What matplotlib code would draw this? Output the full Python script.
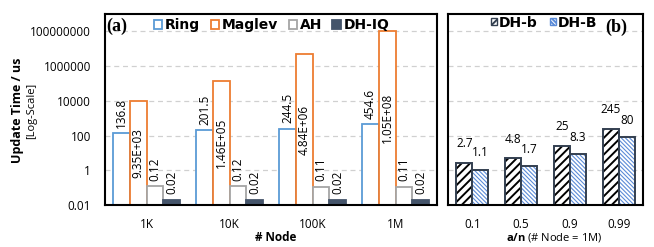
import numpy as np
import matplotlib
matplotlib.use("Agg")
import matplotlib.pyplot as plt
from matplotlib.ticker import FixedLocator, FixedFormatter, NullLocator
from matplotlib.patches import Patch

plt.rcParams["font.family"] = "Open Sans"
plt.rcParams["mathtext.fontset"] = "custom"
plt.rcParams["mathtext.rm"] = "Open Sans"
plt.rcParams["mathtext.bf"] = "Open Sans:bold"
plt.rcParams["hatch.linewidth"] = 1.4

# data
node_sizes = ["1K", "10K", "100K", "1M"]
ring = [136.8, 201.5, 244.5, 454.6]
maglev = [9.35e3, 1.46e5, 4.84e6, 1.05e8]
maglev_labels = ["9.35E+03", "1.46E+05", "4.84E+06", "1.05E+08"]
ah = [0.12, 0.12, 0.11, 0.11]
dh_iq = [0.02, 0.02, 0.02, 0.02]

an_ratios = ["0.1", "0.5", "0.9", "0.99"]
dh_b = [2.7, 4.8, 25, 245]
dh_B = [1.1, 1.7, 8.3, 80]

y_ticks = [1e-2, 1, 1e2, 1e4, 1e6, 1e8]
y_ticklabels = ["0.01", "1", "100", "10000", "1000000", "100000000"]

ring_color = "#5B9BD5"
maglev_color = "#ED7D31"
ah_color = "#A5A5A5"
iq_color = "#44546A"
dh_edge = "#333F50"
dh_blue = "#5B8BD8"
fine_hatch = "\\\\\\\\\\\\\\\\"
legend_font = {"family": "DejaVu Sans", "weight": "bold", "size": 10}

fig = plt.figure(figsize=(6.54, 2.47), dpi=100)
ax1 = fig.add_axes([105 / 654, 1 - 205 / 247, 332 / 654, 191 / 247])
ax2 = fig.add_axes([448 / 654, 1 - 205 / 247, 195 / 654, 191 / 247])


def style_axis(ax):
    ax.set_yscale("log")
    ax.set_ylim(0.01, 1e9)
    ax.set_xlim(-0.5, 3.5)
    ax.yaxis.set_major_locator(FixedLocator(y_ticks))
    ax.yaxis.set_major_formatter(FixedFormatter(y_ticklabels))
    ax.yaxis.set_minor_locator(NullLocator())
    ax.grid(axis="y", color="#D0D0D0", linestyle=(0, (4, 3)), linewidth=0.9)
    ax.set_axisbelow(True)
    ax.tick_params(length=0, labelsize=8.5, pad=10)
    ax.tick_params(axis="x", pad=9)
    for s in ax.spines.values():
        s.set_linewidth(1.5)
        s.set_color("black")


style_axis(ax1)
style_axis(ax2)
ax2.tick_params(labelleft=False)

# (a) update time vs number of nodes
x = np.arange(len(node_sizes))
w = 0.2
b_ring = ax1.bar(x - 1.5 * w, ring, w, facecolor="white", edgecolor=ring_color, linewidth=1.3, label="Ring")
b_mag = ax1.bar(x - 0.5 * w, maglev, w, facecolor="white", edgecolor=maglev_color, linewidth=1.3, label="Maglev")
b_ah = ax1.bar(x + 0.5 * w, ah, w, facecolor="white", edgecolor=ah_color, linewidth=1.3, label="AH")
b_iq = ax1.bar(x + 1.5 * w, dh_iq, w, facecolor=iq_color, edgecolor=iq_color, linewidth=1.3, label="DH-IQ")

for xs, vals in [(x - 1.5 * w, ring), (x + 0.5 * w, ah), (x + 1.5 * w, dh_iq)]:
    for xi, v in zip(xs, vals):
        ax1.annotate(f"{v:g}", (xi, v), xytext=(0, 4), textcoords="offset points",
                     rotation=90, ha="center", va="bottom", fontsize=8.5)
for xi, v, lab in zip(x - 0.5 * w, maglev, maglev_labels):
    # label sits in the middle of the bar (log space)
    ax1.text(xi, np.sqrt(0.01 * v), lab, rotation=90, ha="center", va="center", fontsize=8.5)

ax1.set_xticks(x)
ax1.set_xticklabels(node_sizes)
ax1.legend(handles=[b_ring, b_mag, b_ah, b_iq], ncol=4, loc="center left",
           bbox_to_anchor=(0.148, 0.94), frameon=False, borderpad=0, borderaxespad=0,
           handlelength=0.58, handleheight=0.58, handletextpad=0.22, columnspacing=0.75,
           prop=legend_font)
ax1.text(0.004, 0.935, "(a)", transform=ax1.transAxes, ha="left", va="center",
         family="Liberation Serif", weight="bold", fontsize=13)

# (b) DH-b vs DH-B
x2 = np.arange(len(an_ratios))
w2 = 0.33
ax2.bar(x2 - w2 / 2, dh_b, w2, facecolor="white", edgecolor="black", linewidth=0, hatch="////")
ax2.bar(x2 - w2 / 2, dh_b, w2, facecolor="none", edgecolor=dh_edge, linewidth=1.4)
b_big = ax2.bar(x2 + w2 / 2, dh_B, w2, facecolor="white", edgecolor=dh_blue, linewidth=0, hatch=fine_hatch)
ax2.bar(x2 + w2 / 2, dh_B, w2, facecolor="none", edgecolor=dh_edge, linewidth=1.4)
for p in b_big:
    if hasattr(p, "set_hatch_linewidth"):
        p.set_hatch_linewidth(0.8)

for xi, v in zip(x2 - w2 / 2, dh_b):
    ax2.annotate(f"{v:g}", (xi, v), xytext=(0, 9), textcoords="offset points",
                 ha="center", va="bottom", fontsize=8.5)
for xi, v in zip(x2 + w2 / 2, dh_B):
    ax2.annotate(f"{v:g}", (xi, v), xytext=(0, 7.5), textcoords="offset points",
                 ha="center", va="bottom", fontsize=8.5)

ax2.set_xticks(x2)
ax2.set_xticklabels(an_ratios)
h_small = Patch(facecolor="white", edgecolor=dh_edge, hatch="////", linewidth=1)
h_big = Patch(facecolor="white", edgecolor=dh_blue, hatch=fine_hatch, linewidth=1)
ax2.legend([h_small, h_big], ["DH-b", "DH-B"], ncol=2, loc="center right",
           bbox_to_anchor=(0.765, 0.955), frameon=False, borderpad=0, borderaxespad=0,
           handlelength=0.43, handleheight=0.43, handletextpad=0.15, columnspacing=0.85,
           prop=legend_font)
ax2.text(0.918, 0.93, "(b)", transform=ax2.transAxes, ha="right", va="center",
         family="Liberation Serif", weight="bold", fontsize=13)

# axis titles
fig.text(18 / 654, 1 - 110 / 247, "Update Time / us", rotation=90, ha="center", va="center",
         fontsize=9, weight="bold")
fig.text(32 / 654, 1 - 111 / 247, "[Log-Scale]", rotation=90, ha="center", va="center", fontsize=8)
fig.text(276 / 654, 1 - 237 / 247, "# Node", ha="center", va="center", fontsize=8.5, weight="bold")
fig.text(554 / 654, 1 - 237 / 247, r"$\mathbf{a/n}$ (# Node = 1M)", ha="center", va="center", fontsize=8)

plt.savefig("out.png", dpi=100)
